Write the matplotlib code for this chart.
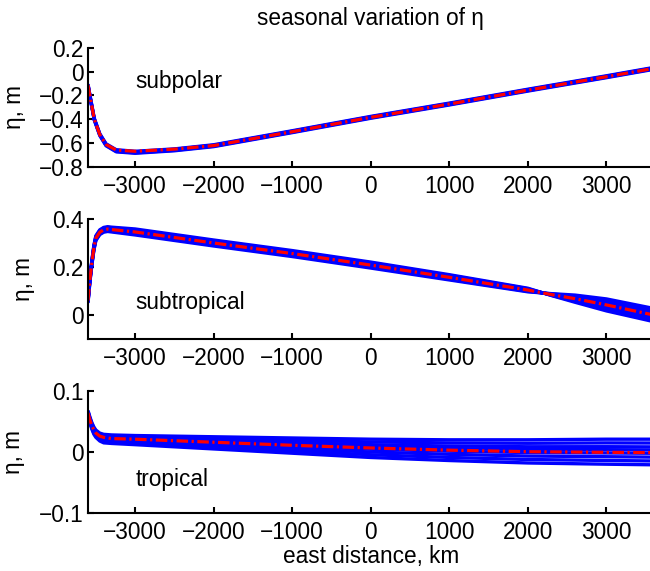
import matplotlib
matplotlib.use("Agg")
import matplotlib.pyplot as plt

plt.rcParams['font.family'] = ['Liberation Sans', 'DejaVu Sans']
plt.rcParams['font.size'] = 16.3

# ---------------- data ----------------
# x positions (km) of the sampled points
x_subpolar = [-3600, -3580, -3560, -3520, -3450, -3370, -3240, -3000, -2500, -2000, -1000, 0, 1000, 2000, 3000, 3600]
subpolar_lines = [
    [-0.104, -0.180, -0.252, -0.392, -0.522, -0.607, -0.657, -0.670, -0.650, -0.615, -0.497, -0.376, -0.264, -0.147, -0.034, 0.036],
    [-0.108, -0.184, -0.256, -0.396, -0.526, -0.611, -0.662, -0.675, -0.654, -0.619, -0.501, -0.380, -0.268, -0.151, -0.038, 0.032],
    [-0.112, -0.188, -0.260, -0.400, -0.530, -0.616, -0.667, -0.679, -0.658, -0.623, -0.505, -0.384, -0.272, -0.155, -0.042, 0.028],
    [-0.116, -0.192, -0.264, -0.404, -0.534, -0.620, -0.671, -0.683, -0.662, -0.627, -0.509, -0.388, -0.276, -0.159, -0.046, 0.024],
    [-0.120, -0.196, -0.268, -0.408, -0.538, -0.624, -0.675, -0.687, -0.666, -0.631, -0.513, -0.392, -0.280, -0.163, -0.050, 0.020],
]
subpolar_mean = [-0.112, -0.188, -0.260, -0.400, -0.530, -0.613, -0.660, -0.670, -0.652, -0.622, -0.505, -0.384, -0.272, -0.155, -0.042, 0.028]

x_subtropical = [-3600, -3575, -3550, -3525, -3500, -3450, -3400, -3350, -3300, -3000, -2000, -1000, 0, 1000, 2000, 2300, 2600, 3000, 3600]
subtropical_lines = [
    [0.0700, 0.1600, 0.2300, 0.2900, 0.3300, 0.3550, 0.3650, 0.3680, 0.3660, 0.3585, 0.3125, 0.2685, 0.2205, 0.1680, 0.1115, 0.0810, 0.0530, 0.0170, -0.0275],
    [0.0672, 0.1572, 0.2272, 0.2872, 0.3272, 0.3522, 0.3622, 0.3652, 0.3632, 0.3550, 0.3090, 0.2650, 0.2170, 0.1649, 0.1094, 0.0821, 0.0572, 0.0240, -0.0198],
    [0.0642, 0.1542, 0.2242, 0.2842, 0.3242, 0.3492, 0.3592, 0.3622, 0.3602, 0.3513, 0.3053, 0.2613, 0.2133, 0.1616, 0.1072, 0.0833, 0.0617, 0.0315, -0.0116],
    [0.0614, 0.1514, 0.2214, 0.2814, 0.3214, 0.3464, 0.3564, 0.3594, 0.3574, 0.3478, 0.3018, 0.2578, 0.2098, 0.1585, 0.1050, 0.0844, 0.0659, 0.0385, -0.0039],
    [0.0586, 0.1486, 0.2186, 0.2786, 0.3186, 0.3436, 0.3536, 0.3566, 0.3546, 0.3443, 0.2983, 0.2543, 0.2063, 0.1555, 0.1030, 0.0856, 0.0701, 0.0455, 0.0039],
    [0.0558, 0.1458, 0.2158, 0.2758, 0.3158, 0.3408, 0.3508, 0.3538, 0.3518, 0.3408, 0.2948, 0.2508, 0.2028, 0.1524, 0.1008, 0.0867, 0.0743, 0.0525, 0.0116],
    [0.0528, 0.1428, 0.2128, 0.2728, 0.3128, 0.3378, 0.3478, 0.3508, 0.3488, 0.3370, 0.2910, 0.2470, 0.1990, 0.1491, 0.0986, 0.0879, 0.0788, 0.0600, 0.0198],
    [0.0500, 0.1400, 0.2100, 0.2700, 0.3100, 0.3350, 0.3450, 0.3480, 0.3460, 0.3335, 0.2875, 0.2435, 0.1955, 0.1460, 0.0965, 0.0890, 0.0830, 0.0670, 0.0275],
]
subtropical_mean = [0.060, 0.150, 0.220, 0.280, 0.320, 0.345, 0.355, 0.358, 0.356, 0.346, 0.300, 0.256, 0.208, 0.157, 0.104, 0.085, 0.068, 0.042, 0.000]

x_tropical = [-3600, -3575, -3550, -3525, -3500, -3450, -3400, -3300, -3000, -2000, -1000, 0, 1000, 2000, 3000, 3600]
tropical_lines = [
    [0.0680, 0.0570, 0.0480, 0.0410, 0.0360, 0.0310, 0.0290, 0.0280, 0.0270, 0.0250, 0.0230, 0.0210, 0.0200, 0.0200, 0.0210, 0.0210],
    [0.0668, 0.0555, 0.0463, 0.0392, 0.0342, 0.0291, 0.0269, 0.0259, 0.0248, 0.0220, 0.0193, 0.0165, 0.0149, 0.0143, 0.0149, 0.0147],
    [0.0656, 0.0540, 0.0447, 0.0374, 0.0324, 0.0271, 0.0248, 0.0238, 0.0225, 0.0190, 0.0155, 0.0120, 0.0098, 0.0086, 0.0087, 0.0084],
    [0.0646, 0.0528, 0.0434, 0.0360, 0.0310, 0.0255, 0.0231, 0.0221, 0.0207, 0.0166, 0.0125, 0.0084, 0.0057, 0.0040, 0.0038, 0.0034],
    [0.0636, 0.0515, 0.0420, 0.0344, 0.0294, 0.0239, 0.0213, 0.0203, 0.0188, 0.0140, 0.0093, 0.0045, 0.0013, -0.0009, -0.0016, -0.0021],
    [0.0624, 0.0500, 0.0403, 0.0326, 0.0276, 0.0219, 0.0192, 0.0182, 0.0165, 0.0110, 0.0055, 0.0000, -0.0038, -0.0066, -0.0077, -0.0084],
    [0.0612, 0.0485, 0.0387, 0.0308, 0.0258, 0.0200, 0.0171, 0.0161, 0.0143, 0.0080, 0.0018, -0.0045, -0.0089, -0.0123, -0.0139, -0.0147],
    [0.0600, 0.0470, 0.0370, 0.0290, 0.0240, 0.0180, 0.0150, 0.0140, 0.0120, 0.0050, -0.0020, -0.0090, -0.0140, -0.0180, -0.0200, -0.0210],
]
tropical_mean = [0.064, 0.052, 0.043, 0.036, 0.031, 0.026, 0.024, 0.022, 0.021, 0.016, 0.011, 0.0066, 0.003, 0.0005, -0.0005, -0.001]

x_ticks = [-3000, -2000, -1000, 0, 1000, 2000, 3000]
x_ticklabels = ['\u22123000', '\u22122000', '\u22121000', '0', '1000', '2000', '3000']
y_ticks_subpolar = [-0.8, -0.6, -0.4, -0.2, 0, 0.2]
y_ticklabels_subpolar = ['\u22120.8', '\u22120.6', '\u22120.4', '\u22120.2', '0', '0.2']
y_ticks_subtropical = [0, 0.2, 0.4]
y_ticklabels_subtropical = ['0', '0.2', '0.4']
y_ticks_tropical = [-0.1, 0, 0.1]
y_ticklabels_tropical = ['\u22120.1', '0', '0.1']

panel_names = ['subpolar', 'subtropical', 'tropical']

# ---------------- figure ----------------
W, H = 650, 571
fig = plt.figure(figsize=(W / 100, H / 100), dpi=100)

left = 88 / W
width = 565.6 / W
positions = [
    [left, 1 - 166.7 / H, width, 118.7 / H],
    [left, 1 - 339 / H, width, 120 / H],
    [left, 1 - 513 / H, width, 122 / H],
]

panels = [
    (x_subpolar, subpolar_lines, subpolar_mean, (-0.8, 0.2), y_ticks_subpolar, y_ticklabels_subpolar, -0.08, -0.109),
    (x_subtropical, subtropical_lines, subtropical_mean, (-0.1, 0.4), y_ticks_subtropical, y_ticklabels_subtropical, 0.05, -0.094),
    (x_tropical, tropical_lines, tropical_mean, (-0.1, 0.1), y_ticks_tropical, y_ticklabels_tropical, -0.045, -0.112),
]

for i, (xs, lines, mean, ylim, yt, ytl, ytext, ylab_x) in enumerate(panels):
    ax = fig.add_axes(positions[i])
    for ln in lines:
        ax.plot(xs, ln, color=(0, 0, 1), lw=2.4, solid_capstyle='butt')
    ax.plot(xs, mean, color=(1, 0, 0), lw=2.3, linestyle=(0, (3.6, 1.1, 0.7, 1.1)))
    ax.set_xlim(-3600, 3600)
    ax.set_ylim(*ylim)
    ax.set_xticks(x_ticks)
    ax.set_xticklabels(x_ticklabels)
    ax.set_yticks(yt)
    ax.set_yticklabels(ytl)
    for s in ['top', 'right']:
        ax.spines[s].set_visible(False)
    for s in ['left', 'bottom']:
        ax.spines[s].set_linewidth(1.5)
    ax.tick_params(direction='in', length=4.5, width=1.5, labelsize=16.3)
    ax.tick_params(axis='x', pad=6)
    ax.tick_params(axis='y', pad=3)
    ax.set_ylabel('\u03b7, m', fontsize=16.3)
    ax.yaxis.set_label_coords(ylab_x, 0.5)
    ax.text(-3000, ytext, panel_names[i], fontsize=16.3, ha='left', va='center')

cx = (88 + 653.6) / 2 / W
fig.text(cx, 1 - 25 / H, 'seasonal variation of \u03b7', ha='center', va='baseline', fontsize=16.3)
fig.text(cx, 1 - 563 / H, 'east distance, km', ha='center', va='baseline', fontsize=16.3)

fig.savefig('out.png', dpi=100)
